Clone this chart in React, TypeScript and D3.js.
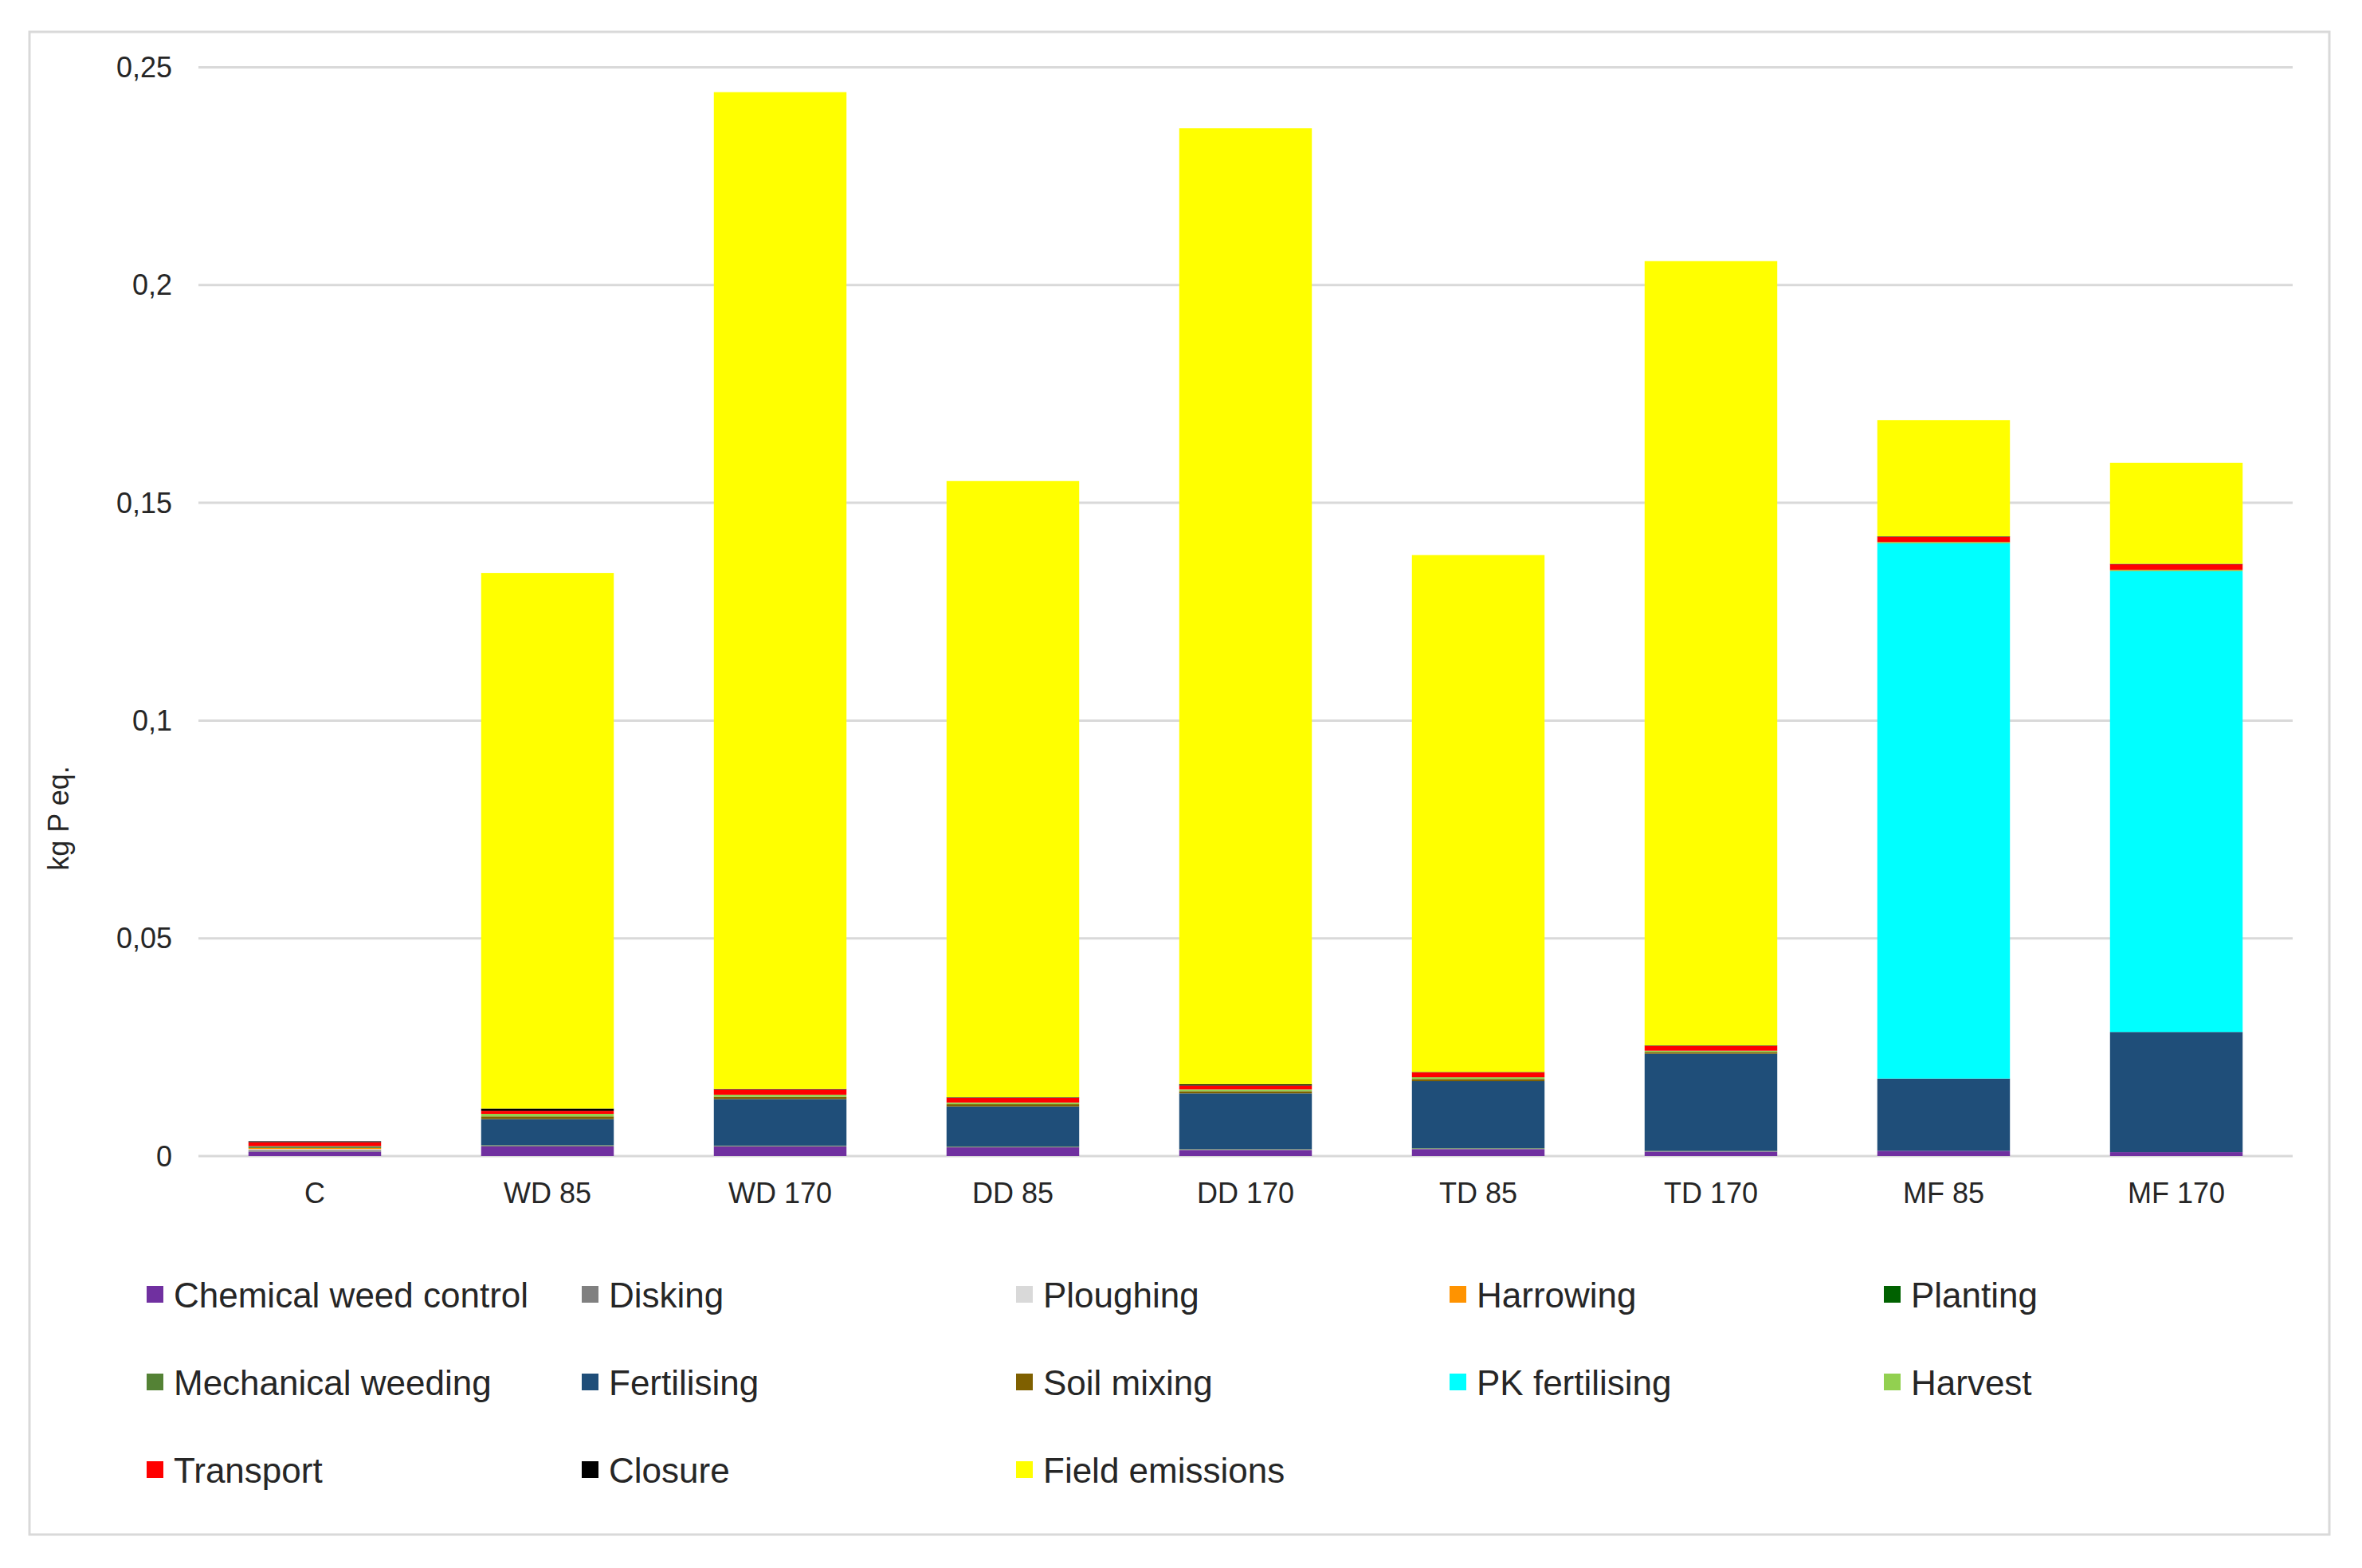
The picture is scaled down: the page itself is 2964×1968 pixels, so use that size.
import React from "react";
import * as d3 from "d3";

const categories = ["C", "WD 85", "WD 170", "DD 85", "DD 170", "TD 85", "TD 170", "MF 85", "MF 170"];

const chemicalWeedControl = [0.001, 0.0022, 0.0022, 0.002, 0.0014, 0.0016, 0.001, 0.0012, 0.0009];
const disking = [0.0004, 0.0002, 0.0001, 0.0001, 0.0001, 0.0001, 0.0001, 0, 0];
const ploughing = [0.0002, 0, 0, 0, 0, 0, 0, 0, 0];
const harrowing = [0.0003, 0, 0, 0, 0, 0, 0, 0, 0];
const planting = [0.0002, 0, 0, 0, 0, 0, 0, 0, 0];
const mechanicalWeeding = [0.0002, 0.0001, 0.0001, 0.0001, 0.0001, 0.0001, 0.0001, 0, 0];
const fertilising = [0, 0.006, 0.0107, 0.0092, 0.0128, 0.0154, 0.0223, 0.0166, 0.0276];
const soilMixing = [0, 0.0006, 0.0005, 0.0005, 0.0005, 0.0005, 0.0004, 0, 0];
const pkFertilising = [0, 0, 0, 0, 0, 0, 0, 0.1229, 0.1058];
const harvest = [0, 0.0006, 0.0005, 0.0004, 0.0004, 0.0004, 0.0003, 0.0003, 0.0003];
const transport = [0.0009, 0.0007, 0.0012, 0.0011, 0.0009, 0.0011, 0.0011, 0.0012, 0.0013];
const closure = [0.0002, 0.0005, 0.0001, 0.0001, 0.0003, 0.0001, 0.0001, 0.0001, 0.0001];
const fieldEmissions = [0, 0.123, 0.2289, 0.1415, 0.2195, 0.1187, 0.1801, 0.0267, 0.0232];

const seriesNames = [
  "Chemical weed control", "Disking", "Ploughing", "Harrowing", "Planting",
  "Mechanical weeding", "Fertilising", "Soil mixing", "PK fertilising", "Harvest",
  "Transport", "Closure", "Field emissions",
];
const seriesValues = [
  chemicalWeedControl, disking, ploughing, harrowing, planting, mechanicalWeeding,
  fertilising, soilMixing, pkFertilising, harvest, transport, closure, fieldEmissions,
];
const seriesColors = [
  "#7030A0", "#808080", "#D9D9D9", "#FF9300", "#006100", "#548235",
  "#1F4E79", "#7F6000", "#00FFFF", "#92D050", "#FF0000", "#000000", "#FFFF00",
];

const yTicks = [0, 0.05, 0.1, 0.15, 0.2, 0.25];
const yTickLabels = ["0", "0,05", "0,1", "0,15", "0,2", "0,25"];
const yTitle = "kg P eq.";

const W = 2964;
const H = 1968;
const FONT = "'Liberation Sans', Arial, Helvetica, sans-serif";
const TEXT = "#262626";

export default function App() {
  const rows = categories.map((c, i) => {
    const r: any = { cat: c };
    seriesNames.forEach((n, s) => (r[n] = seriesValues[s][i]));
    return r;
  });
  const stacked = d3.stack<any>().keys(seriesNames)(rows);

  const x = d3.scaleBand().domain(categories).range([249, 2877]).paddingInner(0.43).paddingOuter(0.215);
  const y = d3.scaleLinear().domain([0, 0.25]).range([1451, 84.5]);

  const legendCols = [184, 730, 1275, 1819, 2364];
  const legendRows = [1625, 1735, 1845];

  return (
    <svg width={W} height={H} style={{ position: "absolute", left: 0, top: 0, background: "#fff" }} fontFamily={FONT}>
      <rect x={0} y={0} width={W} height={H} fill="#fff" />
      <rect x={37} y={40} width={2886} height={1886} fill="none" stroke="#d9d9d9" strokeWidth={3} />
      {yTicks.map((t, i) => (
        <g key={i}>
          <line x1={249} x2={2877} y1={y(t)} y2={y(t)} stroke="#d9d9d9" strokeWidth={3} />
          <text x={216} y={y(t)} textAnchor="end" dominantBaseline="central" fontSize={36} fill={TEXT}>
            {yTickLabels[i]}
          </text>
        </g>
      ))}
      {stacked.map((layer, s) => (
        <g key={s} fill={seriesColors[s]}>
          {layer.map((d, i) => {
            const h = y(d[0]) - y(d[1]);
            if (h <= 0) return null;
            return (
              <rect key={i} x={x(categories[i])} width={x.bandwidth()} y={y(d[1])} height={h} />
            );
          })}
        </g>
      ))}
      {categories.map((c) => (
        <text key={c} x={(x(c) as number) + x.bandwidth() / 2} y={1497} textAnchor="middle" dominantBaseline="central" fontSize={36} fill={TEXT}>
          {c}
        </text>
      ))}
      <text transform={`translate(73,1027) rotate(-90)`} textAnchor="middle" dominantBaseline="central" fontSize={36} fill={TEXT}>
        {yTitle}
      </text>
      {seriesNames.map((n, s) => {
        const cx = legendCols[s % 5];
        const cy = legendRows[Math.floor(s / 5)];
        return (
          <g key={n}>
            <rect x={cx} y={cy - 11} width={21} height={21} fill={seriesColors[s]} />
            <text x={cx + 34} y={cy} dominantBaseline="central" fontSize={44} fill={TEXT}>
              {n}
            </text>
          </g>
        );
      })}
    </svg>
  );
}
